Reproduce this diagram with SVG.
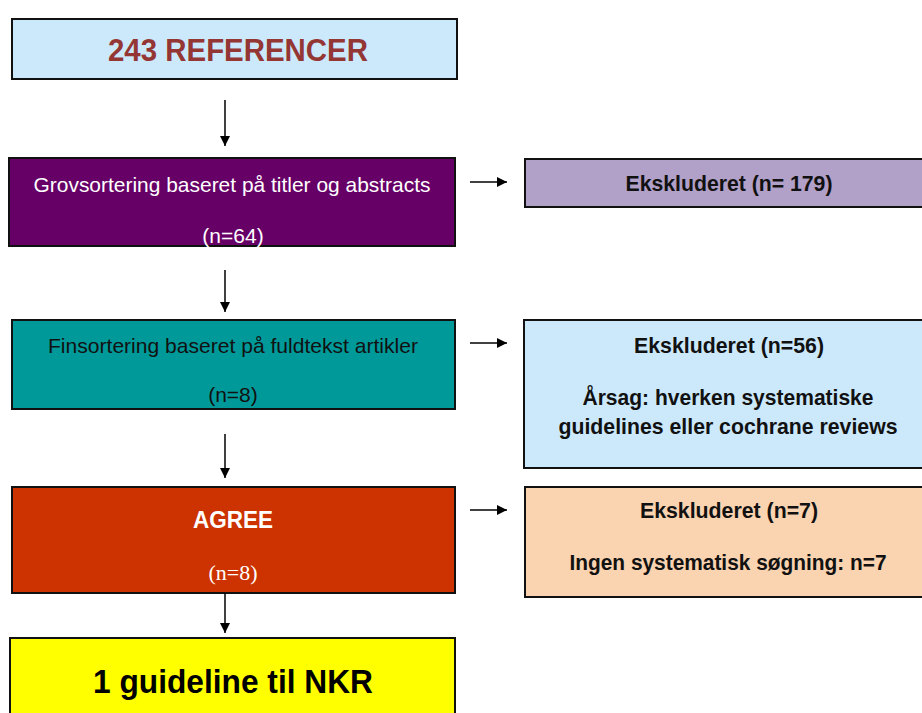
<svg xmlns="http://www.w3.org/2000/svg" width="922" height="713" viewBox="0 0 922 713">
  <style>
    .box { stroke: #111; stroke-width: 2; }
    .t { font-family: "Liberation Sans", Arial, sans-serif; text-anchor: middle; }
    .b { font-weight: bold; }
    .dark { fill: #111; }
    .white { fill: #fff; }
    .edge { stroke: #000; stroke-width: 1.5; fill: none; marker-end: url(#head); }
  </style>
  <defs>
    <marker id="head" viewBox="0 0 10 10" refX="10" refY="5" markerWidth="10" markerHeight="10" markerUnits="userSpaceOnUse" orient="auto">
      <path d="M0,0 L10,5 L0,10 Z" fill="#000"/>
    </marker>
  </defs>

  <g id="references">
    <rect class="box" x="12" y="19" width="445" height="60" fill="#CCE9FC"/>
    <text class="t b" x="238" y="61" font-size="31" fill="#943634" textLength="260" lengthAdjust="spacingAndGlyphs">243 REFERENCER</text>
  </g>

  <g id="coarse-sort">
    <rect class="box" x="9" y="158" width="446" height="88" fill="#660066"/>
    <text class="t white" x="232" y="192" font-size="21" textLength="397" lengthAdjust="spacingAndGlyphs">Grovsortering baseret på titler og abstracts</text>
    <text class="t white" x="233" y="243" font-size="21">(n=64)</text>
  </g>

  <g id="excluded-179">
    <rect class="box" x="525" y="159" width="400" height="48" fill="#B1A0C7"/>
    <text class="t b dark" x="729" y="191" font-size="22" textLength="207" lengthAdjust="spacingAndGlyphs">Ekskluderet (n= 179)</text>
  </g>

  <g id="fine-sort">
    <rect class="box" x="12" y="320" width="443" height="89" fill="#009999"/>
    <text class="t dark" x="233" y="353" font-size="21" textLength="370" lengthAdjust="spacingAndGlyphs">Finsortering baseret på fuldtekst artikler</text>
    <text class="t dark" x="233" y="402" font-size="21">(n=8)</text>
  </g>

  <g id="excluded-56">
    <rect class="box" x="524" y="320" width="400" height="148" fill="#CCE9FC"/>
    <text class="t b dark" x="729" y="353" font-size="22" textLength="190" lengthAdjust="spacingAndGlyphs">Ekskluderet (n=56)</text>
    <text class="t b dark" x="728" y="405" font-size="22" textLength="291" lengthAdjust="spacingAndGlyphs">Årsag: hverken systematiske</text>
    <text class="t b dark" x="728" y="434" font-size="22" textLength="339" lengthAdjust="spacingAndGlyphs">guidelines eller cochrane reviews</text>
  </g>

  <g id="agree">
    <rect class="box" x="12" y="487" width="443" height="106" fill="#CC3300"/>
    <text class="t b white" x="233" y="528" font-size="23" textLength="80" lengthAdjust="spacingAndGlyphs">AGREE</text>
    <text x="233" y="580" font-family="'Liberation Serif', 'Times New Roman', serif" font-size="22" text-anchor="middle" fill="#fff">(n=8)</text>
  </g>

  <g id="excluded-7">
    <rect class="box" x="525" y="487" width="400" height="110" fill="#FAD3B0"/>
    <text class="t b dark" x="729" y="518" font-size="22" textLength="178" lengthAdjust="spacingAndGlyphs">Ekskluderet (n=7)</text>
    <text class="t b dark" x="728" y="570" font-size="22" textLength="317" lengthAdjust="spacingAndGlyphs">Ingen systematisk søgning: n=7</text>
  </g>

  <g id="result">
    <rect class="box" x="10" y="638" width="445" height="80" fill="#FFFF00"/>
    <text class="t b" x="233" y="693" font-size="33" fill="#000" textLength="280" lengthAdjust="spacingAndGlyphs">1 guideline til NKR</text>
  </g>

  <g id="connectors">
    <line class="edge" x1="225" y1="100" x2="225" y2="146"/>
    <line class="edge" x1="225" y1="270" x2="225" y2="312"/>
    <line class="edge" x1="225" y1="434" x2="225" y2="478"/>
    <line class="edge" x1="225" y1="593" x2="225" y2="633"/>
    <line class="edge" x1="470" y1="182" x2="507" y2="182"/>
    <line class="edge" x1="470" y1="343" x2="507" y2="343"/>
    <line class="edge" x1="470" y1="510" x2="507" y2="510"/>
  </g>
</svg>
